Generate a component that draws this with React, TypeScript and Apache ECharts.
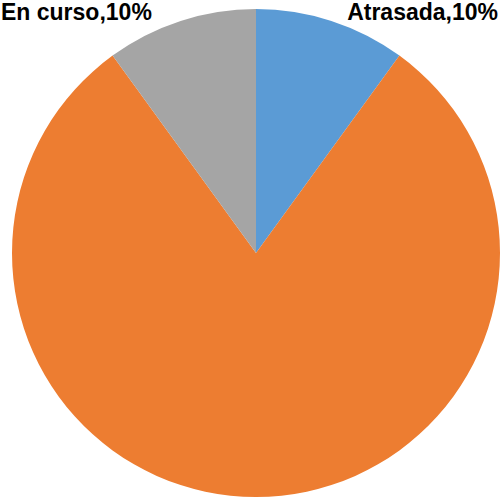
import React, { useEffect, useRef } from "react";
import * as echarts from "echarts";

const categories = ["Atrasada", "Completada", "En curso"];
const values = [10, 80, 10];
const colors = ["#5B9BD5", "#ED7D31", "#A5A5A5"];
const showLabel = [true, false, true];

export default function App() {
  const ref = useRef<HTMLDivElement>(null);
  useEffect(() => {
    const chart = echarts.init(ref.current!, undefined, { renderer: "svg" });
    chart.setOption({
      animation: false,
      backgroundColor: "#ffffff",
      series: [
        {
          type: "pie",
          center: [256, 253],
          radius: 244,
          startAngle: 90,
          clockwise: true,
          silent: true,
          label: {
            show: true,
            position: "outside",
            formatter: (p: any) => `${p.name},${p.value}%`,
            fontFamily: "Liberation Sans, Arial, sans-serif",
            fontWeight: "bold",
            fontSize: 23,
            lineHeight: 23,
            color: "#000000",
            overflow: "none",
          },
          labelLine: { show: false },
          labelLayout: (p: any) => {
            if (p.dataIndex === 0) {
              return { x: 498, y: 0, align: "right", verticalAlign: "top" };
            }
            return { x: 1, y: 0, align: "left", verticalAlign: "top" };
          },
          data: categories.map((name, i) => ({
            name,
            value: values[i],
            itemStyle: { color: colors[i] },
            label: { show: showLabel[i] },
          })),
        },
      ],
    });
    return () => chart.dispose();
  }, []);
  return (
    <div
      ref={ref}
      style={{ position: "fixed", left: 0, top: 0, width: 500, height: 499 }}
    />
  );
}
